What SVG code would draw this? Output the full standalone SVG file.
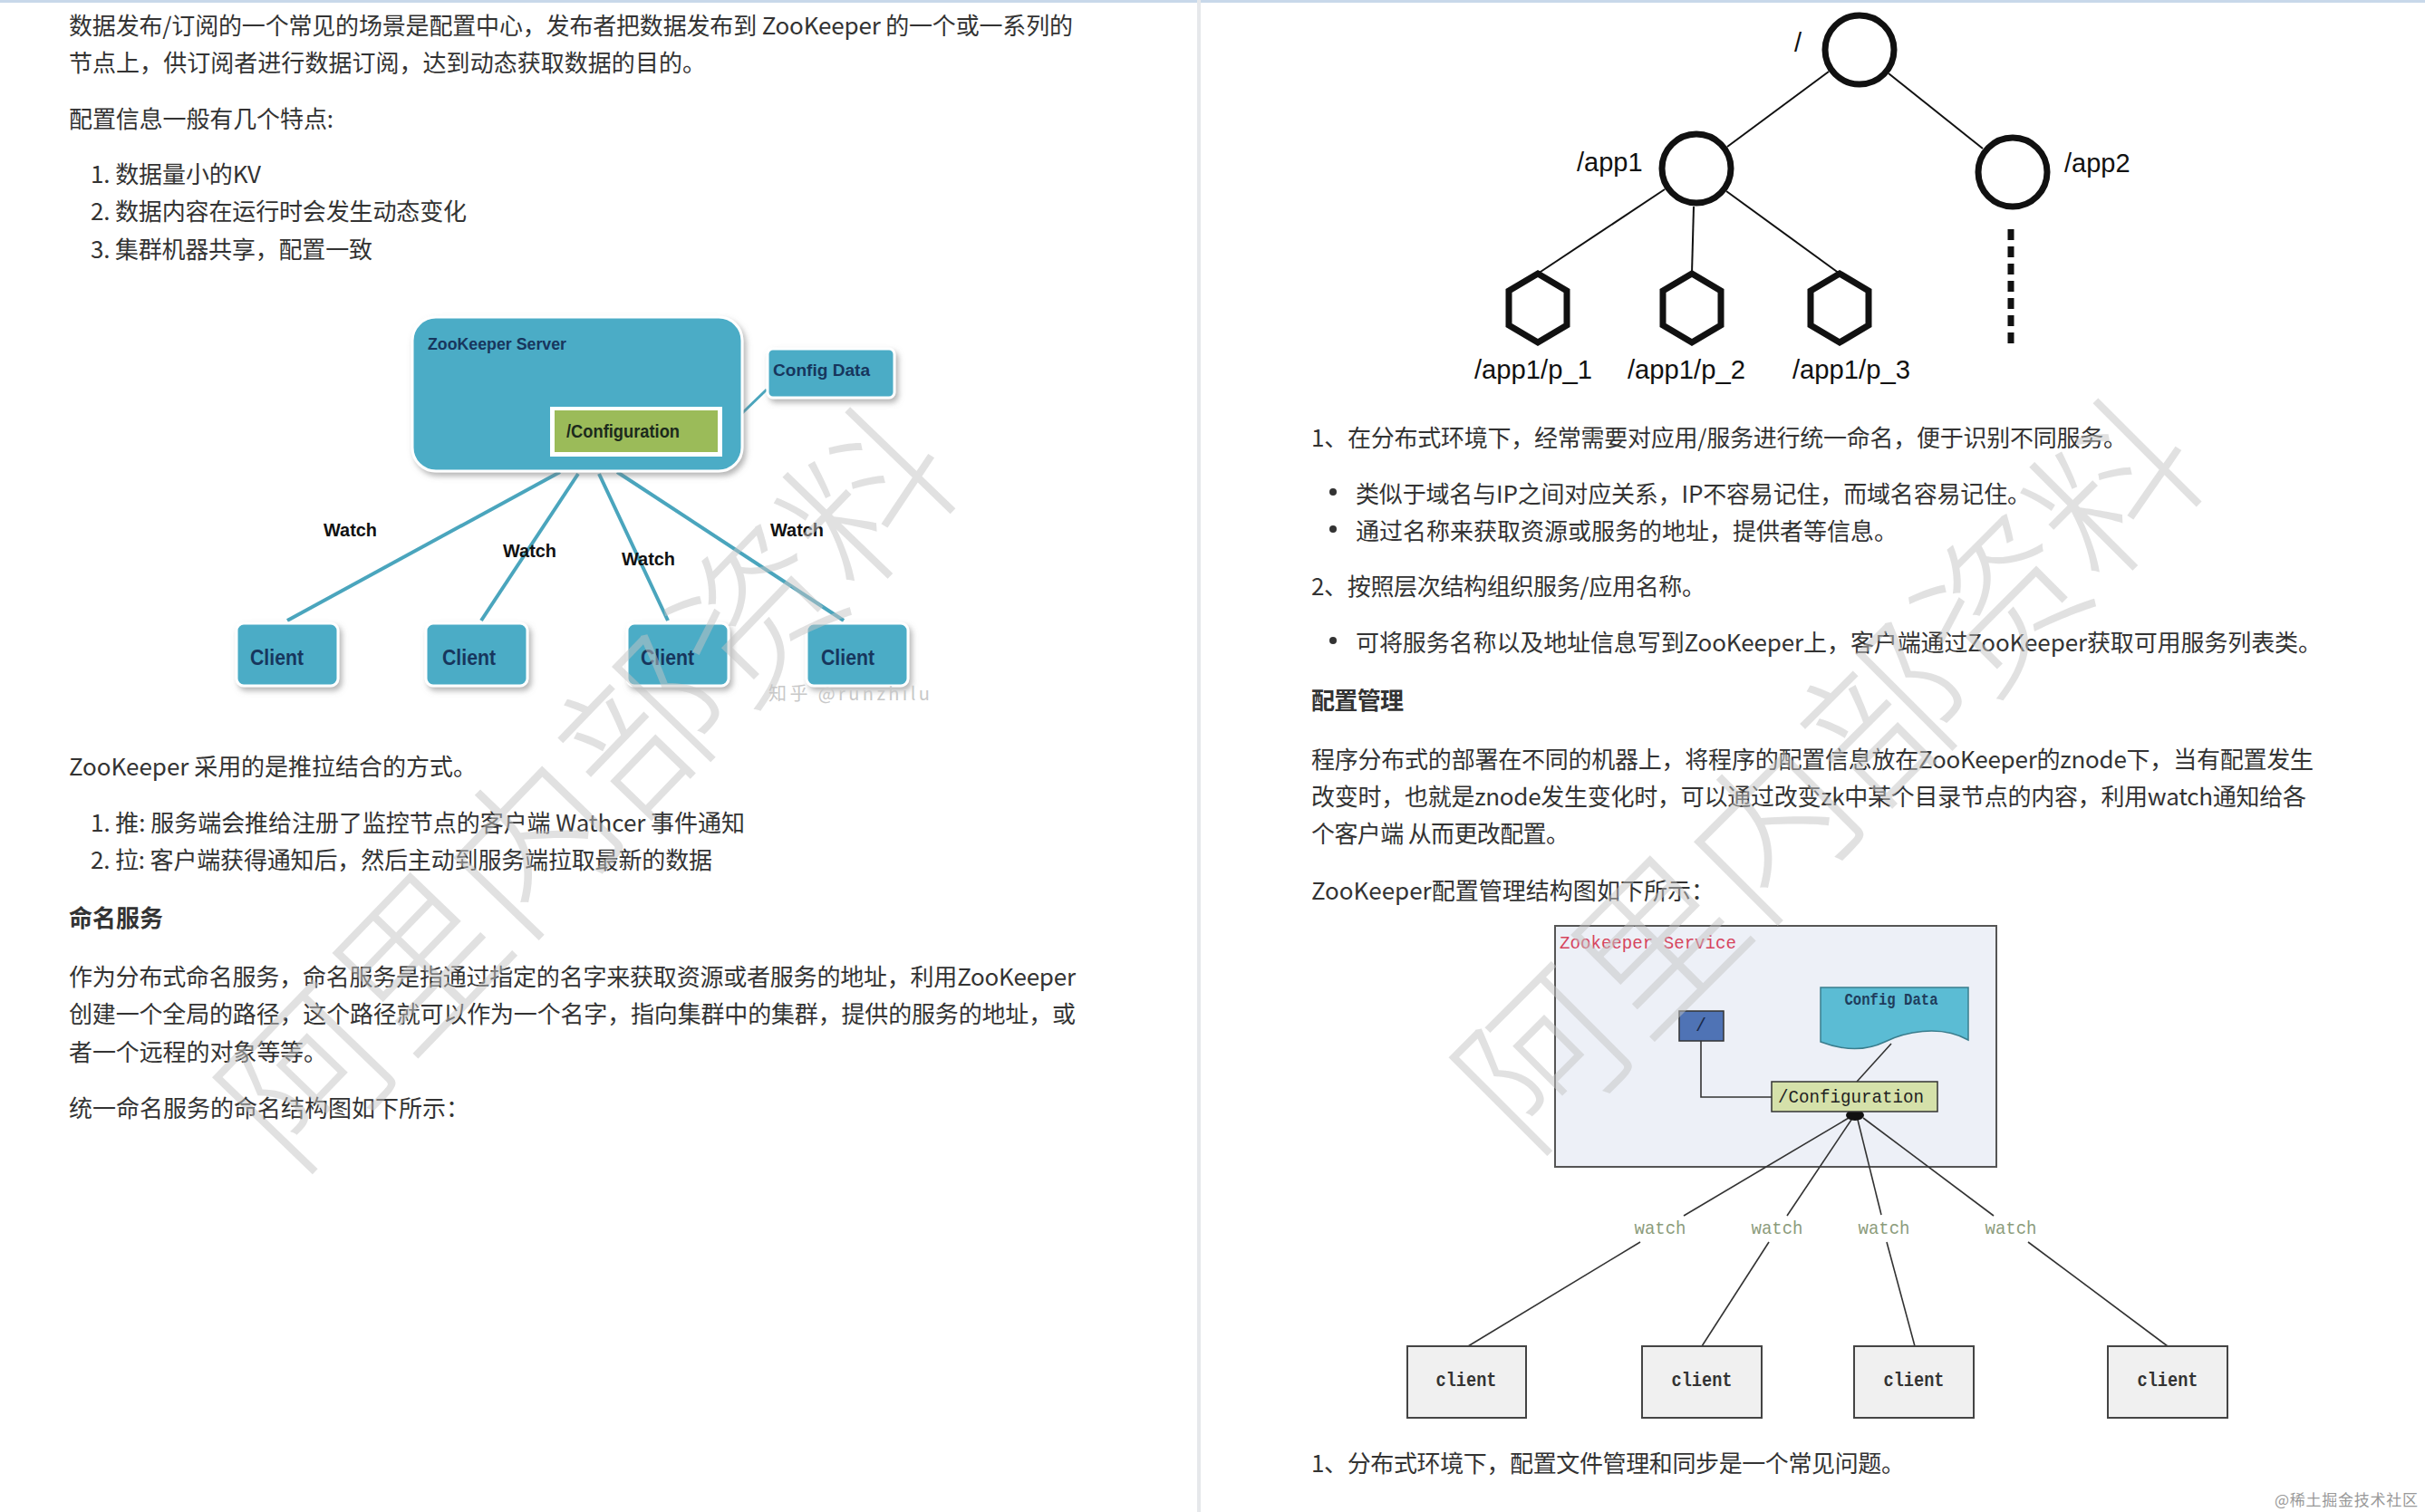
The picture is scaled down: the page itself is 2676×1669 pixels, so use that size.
<svg xmlns="http://www.w3.org/2000/svg" width="2676" height="1669" viewBox="0 0 2676 1669">
<defs>
<style>
.t{font-family:"Noto Sans CJK SC","Noto Sans",sans-serif;font-size:26px;fill:#333;dominant-baseline:central}
.b{font-weight:bold}
.zk{font-family:"Liberation Sans",Arial,sans-serif;font-weight:bold;fill:#17365d;dominant-baseline:central}
.w1{font-family:"Liberation Sans",Arial,sans-serif;font-weight:bold;font-size:20px;fill:#111;dominant-baseline:central}
.teal{fill:#4bacc6;stroke:#fff;stroke-width:3}
.wl{stroke:#4aa5bd;stroke-width:4;fill:none}
.tree{font-family:"Liberation Sans",Arial,sans-serif;font-size:29px;fill:#111}
.ring{fill:#fff;stroke:#111;stroke-width:7}
.tl{stroke:#111;stroke-width:2;fill:none}
.mono{font-family:"Liberation Mono","Courier New",monospace;dominant-baseline:central}
.cl{fill:#f0f0f0;stroke:#444;stroke-width:2}
.ln3{stroke:#333;stroke-width:1.6;fill:none}
.wm{font-family:"Noto Sans CJK SC",sans-serif;font-size:178px;font-weight:300;fill:#c4c4c4;fill-opacity:0.5;dominant-baseline:central;text-anchor:middle}
</style>
<filter id="sh" x="-20%" y="-20%" width="150%" height="150%">
<feDropShadow dx="3" dy="4" stdDeviation="3" flood-color="#777" flood-opacity="0.55"/>
</filter>
<marker id="ar" viewBox="0 0 10 10" refX="9" refY="5" markerWidth="6" markerHeight="6" orient="auto">
<path d="M1,1 L9,5 L1,9" fill="none" stroke="#4aa5bd" stroke-width="2"/>
</marker>
</defs>
<rect width="2676" height="1669" fill="#fff"/>
<rect x="0" y="0" width="2676" height="3" fill="#c8d8ea"/>
<rect x="1321" y="0" width="4" height="1669" fill="#e6e8eb"/>

<g id="left-text">
<text class="t" x="76" y="26" textLength="1108" lengthAdjust="spacing">数据发布/订阅的一个常见的场景是配置中心，发布者把数据发布到 ZooKeeper 的一个或一系列的</text>
<text class="t" x="76" y="67" textLength="703" lengthAdjust="spacing">节点上，供订阅者进行数据订阅，达到动态获取数据的目的。</text>
<text class="t" x="76" y="129" textLength="292" lengthAdjust="spacing">配置信息一般有几个特点:</text>
<text class="t" x="100" y="190" textLength="188" lengthAdjust="spacing">1. 数据量小的KV</text>
<text class="t" x="100" y="231" textLength="415" lengthAdjust="spacing">2. 数据内容在运行时会发生动态变化</text>
<text class="t" x="100" y="273" textLength="311" lengthAdjust="spacing">3. 集群机器共享，配置一致</text>
<text class="t" x="76" y="844" textLength="450" lengthAdjust="spacing">ZooKeeper 采用的是推拉结合的方式。</text>
<text class="t" x="100" y="906" textLength="722" lengthAdjust="spacing">1. 推: 服务端会推给注册了监控节点的客户端 Wathcer 事件通知</text>
<text class="t" x="100" y="947" textLength="686" lengthAdjust="spacing">2. 拉: 客户端获得通知后，然后主动到服务端拉取最新的数据</text>
<text class="t b" x="76" y="1011" textLength="104" lengthAdjust="spacing">命名服务</text>
<text class="t" x="76" y="1076" textLength="1111" lengthAdjust="spacing">作为分布式命名服务，命名服务是指通过指定的名字来获取资源或者服务的地址，利用ZooKeeper</text>
<text class="t" x="76" y="1117" textLength="1111" lengthAdjust="spacing">创建一个全局的路径，这个路径就可以作为一个名字，指向集群中的集群，提供的服务的地址，或</text>
<text class="t" x="76" y="1159" textLength="285" lengthAdjust="spacing">者一个远程的对象等等。</text>
<text class="t" x="76" y="1221" textLength="442" lengthAdjust="spacing">统一命名服务的命名结构图如下所示：</text>
</g>

<g id="right-text">
<text class="t" x="1447" y="481" textLength="900" lengthAdjust="spacing">1、在分布式环境下，经常需要对应用/服务进行统一命名，便于识别不同服务。</text>
<circle cx="1471" cy="543" r="4" fill="#333"/>
<text class="t" x="1496" y="543" textLength="745" lengthAdjust="spacing">类似于域名与IP之间对应关系，IP不容易记住，而域名容易记住。</text>
<circle cx="1471" cy="584" r="4" fill="#333"/>
<text class="t" x="1496" y="584" textLength="598" lengthAdjust="spacing">通过名称来获取资源或服务的地址，提供者等信息。</text>
<text class="t" x="1447" y="645" textLength="435" lengthAdjust="spacing">2、按照层次结构组织服务/应用名称。</text>
<circle cx="1471" cy="707" r="4" fill="#333"/>
<text class="t" x="1496" y="707" textLength="1066" lengthAdjust="spacing">可将服务名称以及地址信息写到ZooKeeper上，客户端通过ZooKeeper获取可用服务列表类。</text>
<text class="t b" x="1447" y="771" textLength="102" lengthAdjust="spacing">配置管理</text>
<text class="t" x="1447" y="836" textLength="1106" lengthAdjust="spacing">程序分布式的部署在不同的机器上，将程序的配置信息放在ZooKeeper的znode下，当有配置发生</text>
<text class="t" x="1447" y="877" textLength="1098" lengthAdjust="spacing">改变时，也就是znode发生变化时，可以通过改变zk中某个目录节点的内容，利用watch通知给各</text>
<text class="t" x="1447" y="918" textLength="285" lengthAdjust="spacing">个客户端 从而更改配置。</text>
<text class="t" x="1447" y="981" textLength="445" lengthAdjust="spacing">ZooKeeper配置管理结构图如下所示：</text>
<text class="t" x="1447" y="1613" textLength="655" lengthAdjust="spacing">1、分布式环境下，配置文件管理和同步是一个常见问题。</text>
</g>

<!-- Diagram 1: ZooKeeper server publish/subscribe -->
<g id="d1-connectors">
<line class="wl" x1="618" y1="521" x2="317" y2="685"/>
<line class="wl" x1="638" y1="523" x2="531" y2="685"/>
<line class="wl" x1="661" y1="523" x2="737" y2="685"/>
<line class="wl" x1="681" y1="521" x2="931" y2="685"/>
<line x1="846" y1="430" x2="818" y2="457" stroke="#4aa5bd" stroke-width="3"/>
<line x1="812" y1="466" x2="799" y2="473" stroke="#4aa5bd" stroke-width="2.5" marker-end="url(#ar)"/>
</g>
<g id="d1-server">
<rect class="teal" x="455" y="350" width="364" height="170" rx="26" filter="url(#sh)"/>
<text class="zk" x="472" y="380" font-size="18" textLength="153" lengthAdjust="spacingAndGlyphs">ZooKeeper Server</text>
</g>
<g id="d1-configuration">
<rect x="607" y="449" width="190" height="55" fill="#fff"/>
<rect x="612" y="453" width="180" height="46" fill="#9bbb59"/>
<text class="zk" x="625" y="476" font-size="20" fill="#1c2a1c" textLength="125" lengthAdjust="spacingAndGlyphs" style="fill:#1c2a1c">/Configuration</text>
</g>
<g id="d1-configdata">
<rect class="teal" x="847" y="385" width="140" height="54" rx="6" filter="url(#sh)"/>
<text class="zk" x="853" y="409" font-size="18" textLength="107" lengthAdjust="spacingAndGlyphs">Config Data</text>
</g>
<g id="d1-client1">
<rect class="teal" x="261" y="688" width="112" height="69" rx="8" filter="url(#sh)"/>
<text class="zk" x="276" y="725" font-size="24" textLength="59" lengthAdjust="spacingAndGlyphs">Client</text>
</g>
<g id="d1-client2">
<rect class="teal" x="470" y="688" width="112" height="69" rx="8" filter="url(#sh)"/>
<text class="zk" x="488" y="725" font-size="24" textLength="59" lengthAdjust="spacingAndGlyphs">Client</text>
</g>
<g id="d1-client3">
<rect class="teal" x="692" y="688" width="112" height="69" rx="8" filter="url(#sh)"/>
<text class="zk" x="707" y="725" font-size="24" textLength="59" lengthAdjust="spacingAndGlyphs">Client</text>
</g>
<g id="d1-client4">
<rect class="teal" x="890" y="688" width="112" height="69" rx="8" filter="url(#sh)"/>
<text class="zk" x="906" y="725" font-size="24" textLength="59" lengthAdjust="spacingAndGlyphs">Client</text>
</g>
<g id="d1-labels">
<text class="w1" x="357" y="585" textLength="59" lengthAdjust="spacingAndGlyphs">Watch</text>
<text class="w1" x="555" y="608" textLength="59" lengthAdjust="spacingAndGlyphs">Watch</text>
<text class="w1" x="686" y="617" textLength="59" lengthAdjust="spacingAndGlyphs">Watch</text>
<text class="w1" x="850" y="585" textLength="59" lengthAdjust="spacingAndGlyphs">Watch</text>
<text x="848" y="764" font-family="Noto Sans CJK SC, sans-serif" font-size="20" fill="#c8c8c8" dominant-baseline="central" textLength="178" lengthAdjust="spacing">知乎 @runzhilu</text>
</g>

<!-- Diagram 2: naming tree -->
<g id="d2-connectors">
<line class="tl" x1="2018" y1="79" x2="1906" y2="162"/>
<line class="tl" x1="2084" y1="81" x2="2188" y2="164"/>
<line class="tl" x1="1837" y1="209" x2="1697" y2="302"/>
<line class="tl" x1="1869" y1="228" x2="1867" y2="302"/>
<line class="tl" x1="1905" y1="211" x2="2030" y2="302"/>
<line x1="2219" y1="253" x2="2219" y2="380" stroke="#111" stroke-width="7" stroke-dasharray="12 7"/>
</g>
<g id="d2-root">
<circle class="ring" cx="2052" cy="55" r="38"/>
<text class="tree" x="1980" y="57">/</text>
</g>
<g id="d2-app1">
<circle class="ring" cx="1872" cy="186" r="38"/>
<text class="tree" x="1740" y="189">/app1</text>
</g>
<g id="d2-app2">
<circle class="ring" cx="2221" cy="190" r="38"/>
<text class="tree" x="2278" y="190">/app2</text>
</g>
<g id="d2-p1">
<polygon class="ring" points="1697,302 1729,321 1729,359 1697,378 1665,359 1665,321"/>
<text class="tree" x="1627" y="418" textLength="130" lengthAdjust="spacingAndGlyphs">/app1/p_1</text>
</g>
<g id="d2-p2">
<polygon class="ring" points="1867,302 1899,321 1899,359 1867,378 1835,359 1835,321"/>
<text class="tree" x="1796" y="418" textLength="130" lengthAdjust="spacingAndGlyphs">/app1/p_2</text>
</g>
<g id="d2-p3">
<polygon class="ring" points="2030,302 2062,321 2062,359 2030,378 1998,359 1998,321"/>
<text class="tree" x="1978" y="418" textLength="130" lengthAdjust="spacingAndGlyphs">/app1/p_3</text>
</g>

<!-- Diagram 3: configuration management -->
<g id="d3-service">
<rect x="1716" y="1022" width="487" height="266" fill="#edf0f7" stroke="#555" stroke-width="2"/>
<text class="mono" x="1721" y="1041" font-size="21" fill="#d6455e" textLength="195" lengthAdjust="spacingAndGlyphs">Zookeeper Service</text>
</g>
<g id="d3-connectors">
<path class="ln3" d="M1877,1149 V1211 H1955" stroke-width="2"/>
<line class="ln3" x1="2087" y1="1152" x2="2049" y2="1194"/>
<line class="ln3" x1="2040" y1="1234" x2="1858" y2="1342"/>
<line class="ln3" x1="1810" y1="1371" x2="1620" y2="1486"/>
<line class="ln3" x1="2043" y1="1236" x2="1972" y2="1342"/>
<line class="ln3" x1="1952" y1="1371" x2="1878" y2="1486"/>
<line class="ln3" x1="2050" y1="1236" x2="2076" y2="1341"/>
<line class="ln3" x1="2082" y1="1371" x2="2113" y2="1486"/>
<line class="ln3" x1="2056" y1="1234" x2="2200" y2="1342"/>
<line class="ln3" x1="2238" y1="1371" x2="2392" y2="1486"/>
<ellipse cx="2047" cy="1231" rx="10" ry="6" fill="#111"/>
<g class="mono" font-size="21" fill="#8c9c7c" text-anchor="middle">
<text x="1832" y="1356" textLength="57" lengthAdjust="spacingAndGlyphs">watch</text>
<text x="1961" y="1356" textLength="57" lengthAdjust="spacingAndGlyphs">watch</text>
<text x="2079" y="1356" textLength="57" lengthAdjust="spacingAndGlyphs">watch</text>
<text x="2219" y="1356" textLength="57" lengthAdjust="spacingAndGlyphs">watch</text>
</g>
</g>
<g id="d3-root">
<rect x="1853" y="1116" width="49" height="33" fill="#4f73b5" stroke="#333" stroke-width="1.5"/>
<text class="mono" x="1877" y="1132" font-size="20" fill="#1a2a4a" text-anchor="middle">/</text>
</g>
<g id="d3-configdata">
<path d="M2009,1090 H2172 V1148 C2140,1130 2100,1140 2080,1150 C2055,1162 2030,1158 2009,1150 Z" fill="#5bbcd4" stroke="#3a7d8d" stroke-width="1.5"/>
<text class="mono" x="2087" y="1104" font-size="18" font-weight="bold" fill="#1f3c5c" text-anchor="middle" textLength="103" lengthAdjust="spacingAndGlyphs">Config Data</text>
</g>
<g id="d3-configuration">
<rect x="1955" y="1194" width="183" height="33" fill="#d5e1aa" stroke="#333" stroke-width="1.5"/>
<text class="mono" x="1962" y="1211" font-size="21" fill="#222" textLength="161" lengthAdjust="spacingAndGlyphs">/Configuration</text>
</g>
<g id="d3-client1">
<rect class="cl" x="1553" y="1486" width="131" height="79"/>
<text class="mono" x="1618" y="1524" font-size="22" font-weight="bold" fill="#333" text-anchor="middle" textLength="67" lengthAdjust="spacingAndGlyphs">client</text>
</g>
<g id="d3-client2">
<rect class="cl" x="1812" y="1486" width="132" height="79"/>
<text class="mono" x="1878" y="1524" font-size="22" font-weight="bold" fill="#333" text-anchor="middle" textLength="67" lengthAdjust="spacingAndGlyphs">client</text>
</g>
<g id="d3-client3">
<rect class="cl" x="2046" y="1486" width="132" height="79"/>
<text class="mono" x="2112" y="1524" font-size="22" font-weight="bold" fill="#333" text-anchor="middle" textLength="67" lengthAdjust="spacingAndGlyphs">client</text>
</g>
<g id="d3-client4">
<rect class="cl" x="2326" y="1486" width="132" height="79"/>
<text class="mono" x="2392" y="1524" font-size="22" font-weight="bold" fill="#333" text-anchor="middle" textLength="67" lengthAdjust="spacingAndGlyphs">client</text>
</g>

<g id="watermarks">
<text class="wm" x="640" y="860" transform="rotate(-46 640 860)">阿里内部资料</text>
<text class="wm" x="2010" y="845" transform="rotate(-45 2010 845)">阿里内部资料</text>
<text x="2668" y="1654" font-family="Noto Sans CJK SC, sans-serif" font-size="17" fill="#999" text-anchor="end" dominant-baseline="central" textLength="158" lengthAdjust="spacing">@稀土掘金技术社区</text>
</g>
</svg>
